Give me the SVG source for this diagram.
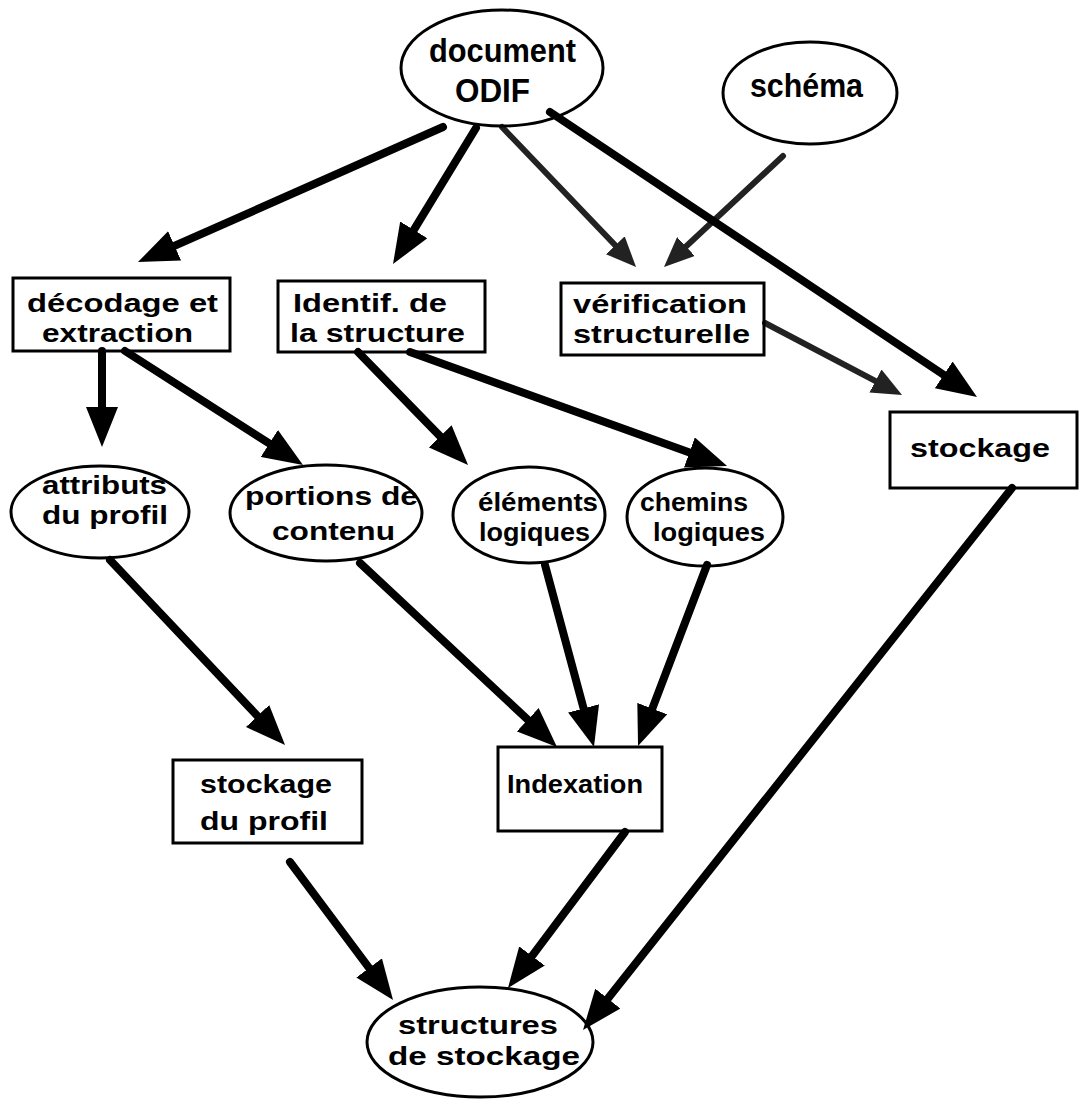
<svg xmlns="http://www.w3.org/2000/svg" width="1080" height="1100" viewBox="0 0 1080 1100">
<style>
.n{fill:none;stroke:#000;stroke-width:3}
.t{font-family:"Liberation Sans",Arial,sans-serif;font-weight:bold;font-size:26px;fill:#000}
.big{font-size:34px}
.c{stroke:#000;stroke-width:8;fill:none;stroke-linecap:round}
.g{stroke:#222;stroke-width:6;fill:none;stroke-linecap:round}
</style>
<defs>
<marker id="ah" viewBox="0 0 40 32" refX="12" refY="16" markerWidth="40" markerHeight="32" markerUnits="userSpaceOnUse" orient="auto">
<path d="M0,0 L40,16 L0,32 z" fill="#000"/>
</marker>
<marker id="gh" viewBox="0 0 30 26" refX="12" refY="13" markerWidth="30" markerHeight="26" markerUnits="userSpaceOnUse" orient="auto">
<path d="M0,0 L30,13 L0,26 z" fill="#222"/>
</marker>
</defs>
<rect width="1080" height="1100" fill="#fff"/>
<g id="connectors">
<line class="c" x1="443" y1="127" x2="163.6" y2="250.7" marker-end="url(#ah)"/>
<line class="c" x1="476" y1="128" x2="407.6" y2="240.1" marker-end="url(#ah)"/>
<line class="g" x1="502" y1="127" x2="623.6" y2="254" marker-end="url(#gh)"/>
<line class="g" x1="783" y1="156" x2="677.2" y2="254.7" marker-end="url(#gh)"/>
<line class="c" x1="550" y1="112" x2="953.7" y2="381.5" marker-end="url(#ah)"/>
<line class="g" x1="765" y1="323" x2="886.1" y2="386.6" marker-end="url(#gh)"/>
<line class="c" x1="102" y1="351" x2="102" y2="419" marker-end="url(#ah)"/>
<line class="c" x1="125" y1="351" x2="279.4" y2="449.9" marker-end="url(#ah)"/>
<line class="c" x1="358" y1="352" x2="448.5" y2="444.9" marker-end="url(#ah)"/>
<line class="c" x1="410" y1="352" x2="700.7" y2="456.5" marker-end="url(#ah)"/>
<line class="c" x1="110" y1="560" x2="265.8" y2="724.7" marker-end="url(#ah)"/>
<line class="c" x1="360" y1="563" x2="536.5" y2="727.9" marker-end="url(#ah)"/>
<line class="c" x1="545" y1="565" x2="586.7" y2="720" marker-end="url(#ah)"/>
<line class="c" x1="707" y1="565" x2="648" y2="719.8" marker-end="url(#ah)"/>
<line class="c" x1="1012" y1="488" x2="600.4" y2="1008" marker-end="url(#ah)"/>
<line class="c" x1="290" y1="862" x2="376.3" y2="977.6" marker-end="url(#ah)"/>
<line class="c" x1="625" y1="832" x2="524.8" y2="965.6" marker-end="url(#ah)"/>
</g>
<g id="document">
<ellipse class="n" cx="502" cy="68" rx="101" ry="58"/>
<text class="t big" x="429" y="62" textLength="147" lengthAdjust="spacingAndGlyphs">document</text>
<text class="t big" x="455" y="102" textLength="75" lengthAdjust="spacingAndGlyphs">ODIF</text>
</g>
<g id="schema">
<ellipse class="n" cx="810" cy="93" rx="87" ry="51"/>
<text class="t big" x="750" y="97" textLength="113" lengthAdjust="spacingAndGlyphs">schéma</text>
</g>
<g id="decodage">
<rect class="n" x="13" y="278" width="217" height="73"/>
<text class="t" x="27" y="312" textLength="191" lengthAdjust="spacingAndGlyphs">décodage et</text>
<text class="t" x="42" y="342" textLength="151" lengthAdjust="spacingAndGlyphs">extraction</text>
</g>
<g id="identif">
<rect class="n" x="278" y="281" width="207" height="71"/>
<text class="t" x="293" y="312" textLength="154" lengthAdjust="spacingAndGlyphs">Identif. de</text>
<text class="t" x="290" y="342" textLength="175" lengthAdjust="spacingAndGlyphs">la structure</text>
</g>
<g id="verification">
<rect class="n" x="561" y="283" width="203" height="72"/>
<text class="t" x="573" y="313" textLength="174" lengthAdjust="spacingAndGlyphs">vérification</text>
<text class="t" x="573" y="343" textLength="177" lengthAdjust="spacingAndGlyphs">structurelle</text>
</g>
<g id="stockage">
<rect class="n" x="890" y="412" width="187" height="76"/>
<text class="t" x="910" y="457" textLength="140" lengthAdjust="spacingAndGlyphs">stockage</text>
</g>
<g id="attributs">
<ellipse class="n" cx="100" cy="512" rx="89" ry="46"/>
<text class="t" x="42" y="494" textLength="125" lengthAdjust="spacingAndGlyphs">attributs</text>
<text class="t" x="42" y="524" textLength="126" lengthAdjust="spacingAndGlyphs">du profil</text>
</g>
<g id="portions">
<ellipse class="n" cx="326" cy="513" rx="96" ry="48"/>
<text class="t" x="245" y="505" textLength="173" lengthAdjust="spacingAndGlyphs">portions de</text>
<text class="t" x="272" y="540" textLength="123" lengthAdjust="spacingAndGlyphs">contenu</text>
</g>
<g id="elements">
<ellipse class="n" cx="529" cy="515" rx="76" ry="48"/>
<text class="t" x="478" y="511" textLength="120" lengthAdjust="spacingAndGlyphs">éléments</text>
<text class="t" x="479" y="541" textLength="111" lengthAdjust="spacingAndGlyphs">logiques</text>
</g>
<g id="chemins">
<ellipse class="n" cx="705" cy="517" rx="78" ry="49"/>
<text class="t" x="640" y="511" textLength="108" lengthAdjust="spacingAndGlyphs">chemins</text>
<text class="t" x="653" y="541" textLength="112" lengthAdjust="spacingAndGlyphs">logiques</text>
</g>
<g id="indexation">
<rect class="n" x="498" y="747" width="164" height="84"/>
<text class="t" x="507" y="793" textLength="136" lengthAdjust="spacingAndGlyphs">Indexation</text>
</g>
<g id="stockage-profil">
<rect class="n" x="173" y="760" width="189" height="83"/>
<text class="t" x="200" y="793" textLength="132" lengthAdjust="spacingAndGlyphs">stockage</text>
<text class="t" x="200" y="830" textLength="128" lengthAdjust="spacingAndGlyphs">du profil</text>
</g>
<g id="structures">
<ellipse class="n" cx="480" cy="1042" rx="113" ry="55"/>
<text class="t" x="398" y="1034" textLength="160" lengthAdjust="spacingAndGlyphs">structures</text>
<text class="t" x="388" y="1065" textLength="192" lengthAdjust="spacingAndGlyphs">de stockage</text>
</g>
</svg>
